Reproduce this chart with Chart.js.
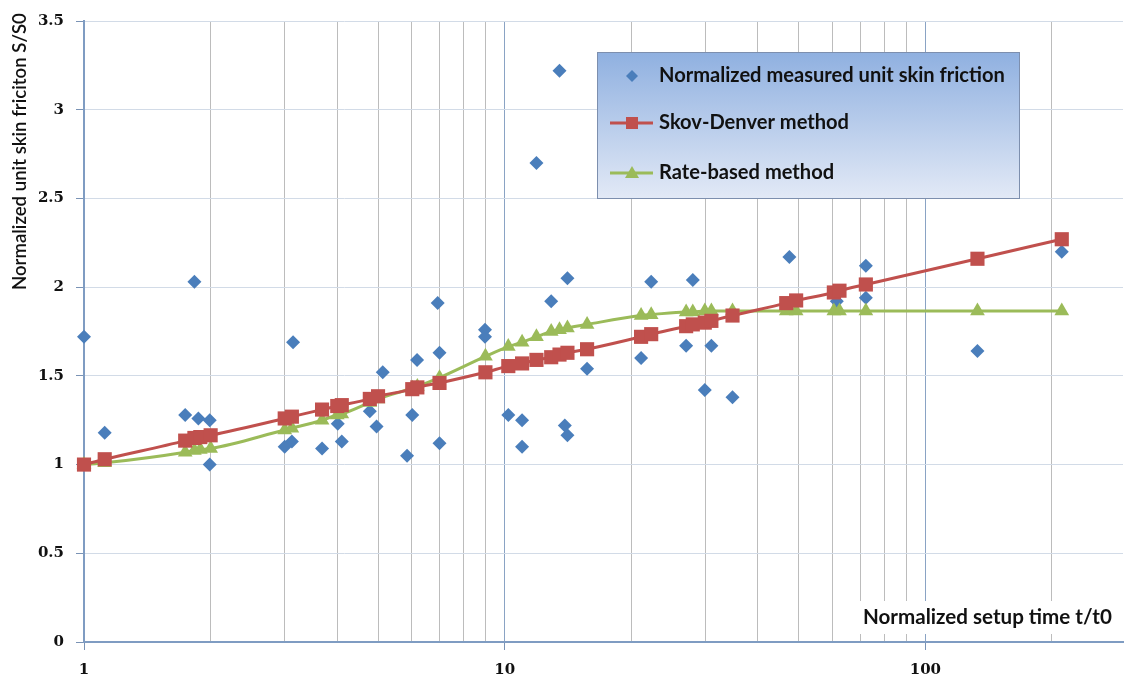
<!DOCTYPE html>
<html><head><meta charset="utf-8">
<script src="https://cdn.jsdelivr.net/npm/chart.js@4.4.1/dist/chart.umd.min.js"></script>
<style>html,body{margin:0;padding:0;background:#fff;overflow:hidden;width:1124px;height:685px}</style>
</head><body>
<div style="width:1133px;height:685px;position:relative"><canvas id="c"></canvas></div>
<script>
// ---- data ----
const measuredX = [1.0, 1.12, 1.74, 1.83, 1.87, 1.99, 1.99, 3.0, 3.12, 3.14, 3.68, 4.01, 4.1, 4.78, 4.96, 5.13, 5.86, 6.03, 6.19, 6.93, 7.0, 7.0, 8.98, 8.98, 10.2, 11.0, 11.0, 11.9, 12.9, 13.5, 13.9, 14.1, 14.1, 15.7, 21.1, 22.3, 27.0, 28.0, 29.9, 31.0, 34.8, 47.5, 61.6, 72.2, 72.2, 133, 211];
const measuredY = [1.72, 1.18, 1.28, 2.03, 1.26, 1.25, 1.00, 1.10, 1.13, 1.69, 1.09, 1.23, 1.13, 1.30, 1.215, 1.52, 1.05, 1.28, 1.59, 1.91, 1.63, 1.12, 1.76, 1.72, 1.28, 1.25, 1.10, 2.70, 1.92, 3.22, 1.22, 1.165, 2.05, 1.54, 1.60, 2.03, 1.67, 2.04, 1.42, 1.67, 1.38, 2.17, 1.92, 2.12, 1.94, 1.64, 2.20];
const methodX = [1.0, 1.12, 1.74, 1.83, 1.89, 2.0, 3.0, 3.12, 3.68, 4.0, 4.1, 4.78, 5.0, 6.03, 6.2, 7.0, 9.0, 10.2, 11.0, 11.9, 12.9, 13.5, 14.1, 15.7, 21.1, 22.3, 27.0, 28.0, 29.9, 31.0, 34.8, 46.7, 49.3, 60.6, 62.5, 72.2, 133, 211];
const skovDenverY = [1.00, 1.03, 1.135, 1.15, 1.155, 1.165, 1.26, 1.27, 1.31, 1.33, 1.335, 1.37, 1.385, 1.425, 1.435, 1.46, 1.52, 1.555, 1.57, 1.59, 1.605, 1.62, 1.63, 1.65, 1.72, 1.735, 1.78, 1.79, 1.80, 1.81, 1.84, 1.91, 1.925, 1.97, 1.98, 2.015, 2.16, 2.27];
const rateBasedY = [1.00, 1.01, 1.07, 1.08, 1.085, 1.09, 1.195, 1.205, 1.25, 1.28, 1.285, 1.35, 1.37, 1.43, 1.44, 1.49, 1.61, 1.665, 1.69, 1.72, 1.75, 1.76, 1.77, 1.79, 1.84, 1.845, 1.86, 1.86, 1.865, 1.865, 1.865, 1.865, 1.865, 1.865, 1.865, 1.865, 1.865, 1.865];
const xGridValues = [1,2,3,4,5,6,7,8,9,10,20,30,40,50,60,70,80,90,100,200];
const xLabelValues = [1, 10, 100];
const seriesNames = ['Normalized measured unit skin friction', 'Skov-Denver method', 'Rate-based method'];
const yTitle = 'Normalized unit skin friciton S/S0';
const xTitle = 'Normalized setup time t/t0';

const BLUE = '#4a7ebb', RED = '#c0504d', GREEN = '#9bbb59';
const toPts = (xs, ys) => xs.map((x, i) => ({x, y: ys[i]}));
const isMajor = v => xLabelValues.includes(v);
const TICKFONT = {family: 'DejaVu Serif', size: 15, weight: 'bold'};
const TXTFAMILY = 'Lato, "Open Sans", sans-serif';

function fitSize(ctx, text, width, weight) {
  ctx.font = `${weight} 20px ${TXTFAMILY}`;
  return 20 * width / ctx.measureText(text).width;
}

const deco = {
  id: 'deco',
  afterDraw(chart) {
    const ctx = chart.ctx;
    ctx.save();
    // y-axis title
    const ys = fitSize(ctx, yTitle, 277, '600');
    ctx.font = `600 ${ys}px ${TXTFAMILY}`;
    ctx.fillStyle = '#111';
    ctx.translate(20, 290);
    ctx.rotate(-Math.PI / 2);
    ctx.textAlign = 'left';
    ctx.textBaseline = 'middle';
    ctx.fillText(yTitle, 0, 0);
    ctx.restore();

    // x-axis title inside plot
    ctx.save();
    ctx.fillStyle = '#fff';
    ctx.fillRect(857, 601, 276, 33);
    const xs = fitSize(ctx, xTitle, 249, 'bold');
    ctx.font = `bold ${xs}px ${TXTFAMILY}`;
    ctx.fillStyle = '#111';
    ctx.textAlign = 'left';
    ctx.textBaseline = 'middle';
    ctx.fillText(xTitle, 863, 617);
    ctx.restore();

    // legend box
    ctx.save();
    const L = 597, T = 52, W = 422, H = 146;
    const g = ctx.createLinearGradient(0, T, 0, T + H);
    g.addColorStop(0, '#8fb0e0');
    g.addColorStop(1, '#e2e9f6');
    ctx.fillStyle = g;
    ctx.fillRect(L, T, W, H);
    ctx.strokeStyle = '#7d8fae';
    ctx.lineWidth = 1;
    ctx.strokeRect(L + 0.5, T + 0.5, W, H);
    const ls = fitSize(ctx, seriesNames[0], 346, 'bold');
    ctx.font = `bold ${ls}px ${TXTFAMILY}`;
    ctx.fillStyle = '#111';
    ctx.textAlign = 'left';
    ctx.textBaseline = 'middle';
    const rows = [76, 123, 173];
    seriesNames.forEach((n, i) => ctx.fillText(n, 659, rows[i]));
    // markers
    ctx.fillStyle = BLUE;
    ctx.beginPath(); ctx.moveTo(632, rows[0]-6); ctx.lineTo(638, rows[0]); ctx.lineTo(632, rows[0]+6); ctx.lineTo(626, rows[0]); ctx.closePath(); ctx.fill();
    ctx.lineWidth = 3;
    ctx.strokeStyle = RED;
    ctx.beginPath(); ctx.moveTo(610, rows[1]); ctx.lineTo(653, rows[1]); ctx.stroke();
    ctx.fillStyle = RED;
    ctx.fillRect(626, rows[1] - 6, 12, 12);
    ctx.strokeStyle = GREEN;
    ctx.beginPath(); ctx.moveTo(610, rows[2]); ctx.lineTo(653, rows[2]); ctx.stroke();
    ctx.fillStyle = GREEN;
    ctx.beginPath(); ctx.moveTo(632, rows[2]-7); ctx.lineTo(639, rows[2]+5); ctx.lineTo(625, rows[2]+5); ctx.closePath(); ctx.fill();
    ctx.restore();
  }
};

new Chart(document.getElementById('c'), {
  type: 'scatter',
  data: {
    datasets: [
      {label: seriesNames[0], data: toPts(measuredX, measuredY), pointStyle: 'rectRot', pointRadius: 7,
       backgroundColor: BLUE, borderColor: BLUE, borderWidth: 0, showLine: false, order: 3, clip: false},
      {label: seriesNames[1], data: toPts(methodX, skovDenverY), pointStyle: 'rect', pointRadius: 10,
       backgroundColor: RED, borderColor: RED, pointBorderWidth: 0, borderWidth: 3, showLine: true, order: 1, clip: false,
       cubicInterpolationMode: 'monotone'},
      {label: seriesNames[2], data: toPts(methodX, rateBasedY), pointStyle: 'triangle', pointRadius: 8.5,
       backgroundColor: GREEN, borderColor: GREEN, pointBorderWidth: 0, borderWidth: 3, showLine: true, order: 2, clip: false,
       cubicInterpolationMode: 'monotone'}
    ]
  },
  options: {
    responsive: true, maintainAspectRatio: false, animation: false,
    layout: {padding: {left: 0, right: 1, top: 14, bottom: 0}},
    plugins: {legend: {display: false}, tooltip: {enabled: false}},
    scales: {
      x: {
        type: 'logarithmic', min: 1, max: 295,
        afterBuildTicks: s => { s.ticks = xGridValues.map(v => ({value: v, major: isMajor(v)})); },
        afterFit: s => { s.height = 43; },
        ticks: {autoSkip: false, maxRotation: 0, padding: 11, color: '#111', font: TICKFONT,
                callback: v => isMajor(v) ? String(v) : ''},
        grid: {color: c => (c.tick && isMajor(c.tick.value)) ? '#8aa3c4' : '#bcbcbc', lineWidth: 1,
               tickLength: 8, tickColor: c => (c.tick && isMajor(c.tick.value)) ? '#7a93b5' : 'rgba(0,0,0,0)'},
        border: {color: '#7f9cc2', width: 2}
      },
      y: {
        min: 0, max: 3.5,
        afterFit: s => { s.width = 84; },
        ticks: {stepSize: 0.5, padding: 12, color: '#111', font: TICKFONT,
                callback: v => String(Math.round(v * 10) / 10)},
        grid: {color: '#d2dbe7', lineWidth: 1, tickLength: 8, tickColor: '#7a93b5'},
        border: {color: '#7f9cc2', width: 2}
      }
    }
  },
  plugins: [deco]
});
</script>
</body></html>
